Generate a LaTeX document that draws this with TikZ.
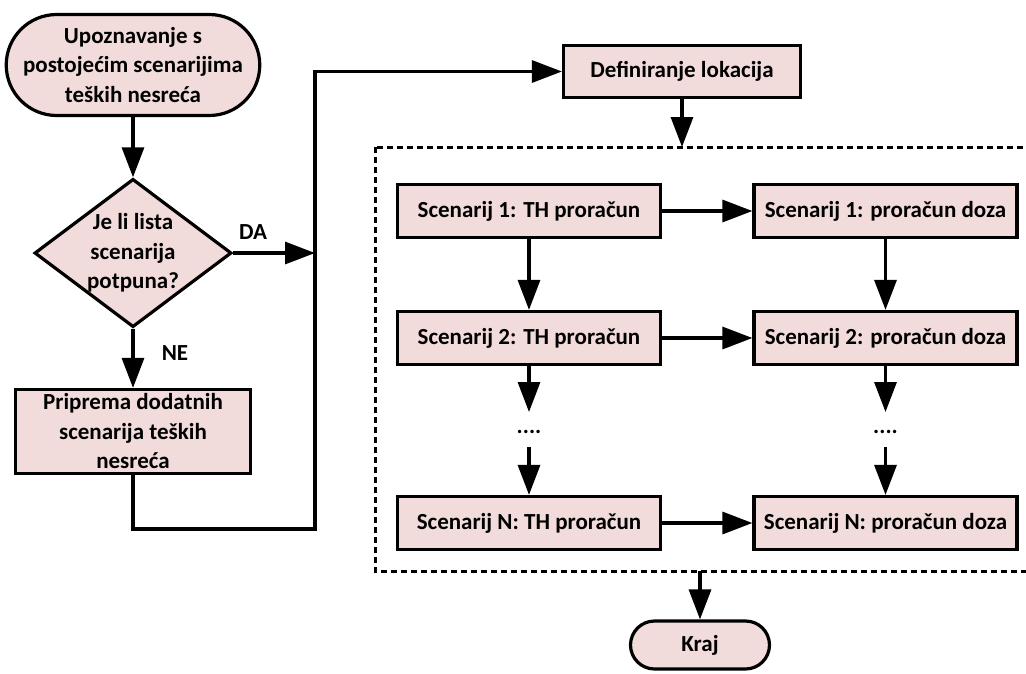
\documentclass[tikz,border=0pt]{standalone}
\usepackage{fontspec}
\setmainfont{Carlito}
\usetikzlibrary{arrows.meta,shapes.geometric,shapes.misc}
\definecolor{boxfill}{HTML}{F2DCDB}
\begin{document}
\begin{tikzpicture}[x=1pt,y=-1pt,
  font=\fontsize{23}{29.5}\selectfont\bfseries,
  base/.style={draw=black, line width=3.2pt, fill=boxfill, align=center, inner sep=0pt},
  procbox/.style={base, rectangle},
  scenbox/.style={procbox, minimum width=263pt, minimum height=53pt},
  term/.style={base, rounded rectangle},
  decision/.style={base, diamond, aspect=1.32},
  conn/.style={line width=3.2pt, -{Triangle[length=30pt,width=22pt]}},
  plain/.style={line width=3.2pt},
  group/.style={line width=3pt, dash pattern=on 6pt off 4pt},
  lbl/.style={inner sep=0pt}
]
\useasboundingbox (0,0) rectangle (1026,673);

% dashed group
\coordinate (gtl) at (375,147);
\coordinate (gbr) at (1045,571);
\draw[group] (gtl) rectangle (gbr);

% nodes
\node[term, minimum width=244pt, minimum height=101pt] (start) at (133,65) {Upoznavanje s\\postojećim scenarijima\\teških nesreća};
\node[decision, minimum width=197pt, minimum height=148pt] (dec) at (133,253) {Je li lista\\scenarija\\potpuna?};
\node[procbox, minimum width=235pt, minimum height=84pt] (prip) at (133,431.5) {Priprema dodatnih\\scenarija teških\\nesreća};
\node[procbox, minimum width=237pt, minimum height=52pt] (def) at (682,71.5) {Definiranje lokacija};

\node[scenbox] (s1t) at (529,211) {Scenarij 1: TH proračun};
\node[scenbox] (s1d) at (885.5,211) {Scenarij 1: proračun doza};
\node[scenbox] (s2t) at (529,338) {Scenarij 2: TH proračun};
\node[scenbox] (s2d) at (885.5,338) {Scenarij 2: proračun doza};
\node[scenbox] (sNt) at (529,523) {Scenarij N: TH proračun};
\node[scenbox] (sNd) at (885.5,523) {Scenarij N: proračun doza};

\node[lbl, anchor=base] (dl) at (529,433) {....};
\node[lbl, anchor=base] (dr) at (885.5,433) {....};

\node[term, minimum width=139pt, minimum height=48pt] (kraj) at (700,645) {Kraj};

\node[lbl] (da) at (253,232) {DA};
\node[lbl] (ne) at (175,353) {NE};

% coordinates
\coordinate (j) at (315,253);
\coordinate (jb) at (315,529);
\coordinate (c1) at (133,529);
\coordinate (gtop) at (682,147);
\coordinate (gbot) at (700,571);
\coordinate (l2e) at (529,412);
\coordinate (l3s) at (529,447);
\coordinate (r2e) at (885.5,412);
\coordinate (r3s) at (885.5,447);

% connectors
\draw[conn] (start.south) -- (dec.north);
\draw[conn] (dec.east) -- (j);
\draw[conn] (dec.south) -- (prip.north);
\draw[conn] (prip.south) -- (c1) -- (jb) |- (def.west);
\draw[conn] (def.south) -- (gtop);

\draw[conn] (s1t.east) -- (s1d.west);
\draw[conn] (s2t.east) -- (s2d.west);
\draw[conn] (sNt.east) -- (sNd.west);

\draw[conn] (s1t.south) -- (s2t.north);
\draw[conn] (s1d.south) -- (s2d.north);
\draw[conn] (s2t.south) -- (l2e);
\draw[conn] (s2d.south) -- (r2e);
\draw[conn] (l3s) -- (sNt.north);
\draw[conn] (r3s) -- (sNd.north);

\draw[conn] (gbot) -- (kraj.north);
\end{tikzpicture}
\end{document}
